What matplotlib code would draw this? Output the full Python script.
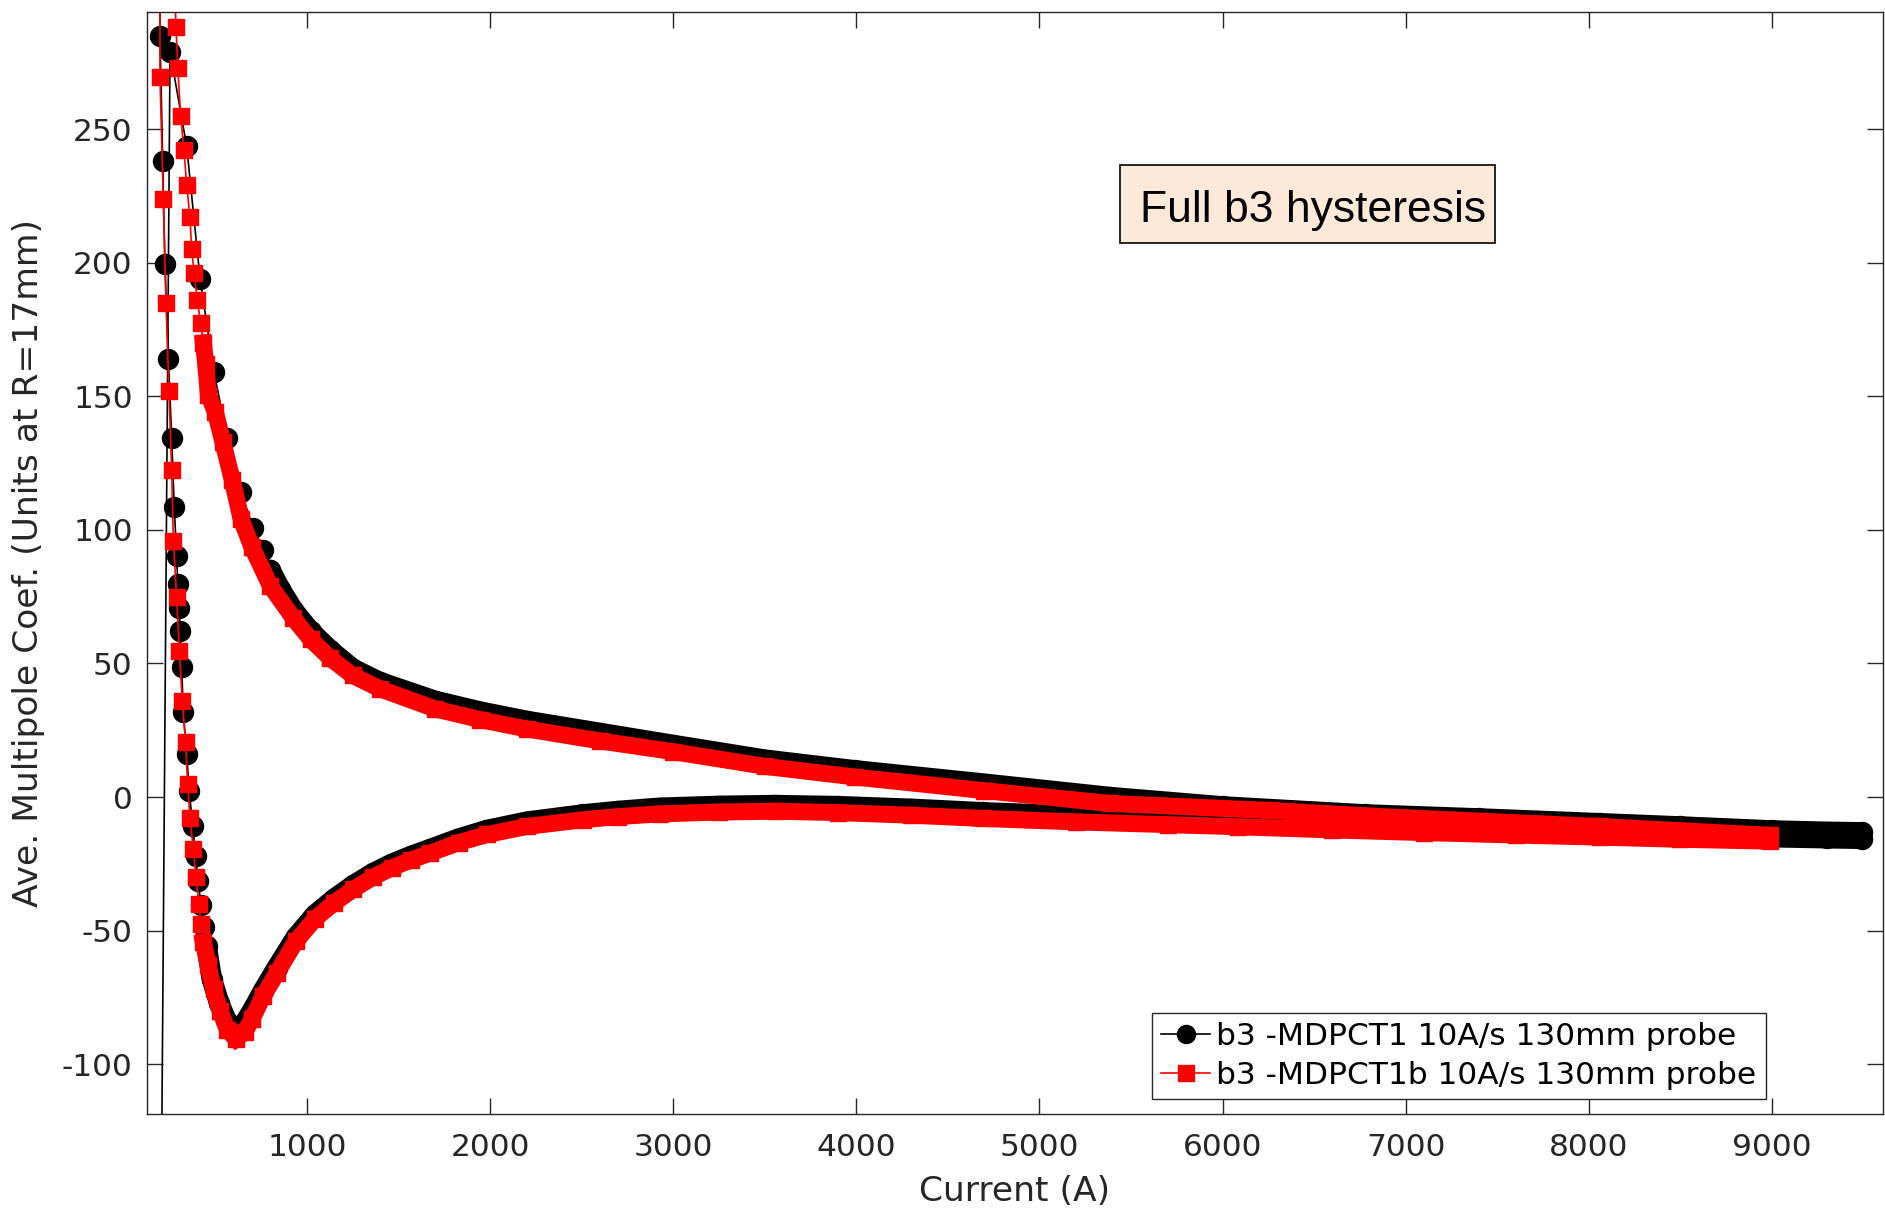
import matplotlib
matplotlib.use("Agg")
import matplotlib.pyplot as plt
from matplotlib.lines import Line2D
from matplotlib.patches import Rectangle

# ---- MDPCT1 (black): loop order = steep branch, up-ramp, down-ramp ----
blk_left_I = [201, 197, 212, 224, 243, 261, 275, 288, 294, 303, 306, 316, 324, 343,
              357, 376, 392, 406, 421, 439, 452]
blk_left_b3 = [420, 285, 238, 199.5, 164, 134.5, 108.5, 90.4, 79.7, 70.7, 62, 48.5, 32,
               16, 2.2, -11, -22, -31.5, -40.4, -48.8, -55.8]

blk_up_I = [480, 520, 560, 607, 650, 700, 760, 834, 939, 1044, 1150, 1253, 1360, 1462,
            1570, 1671, 1830, 1985, 2200, 2508, 2700, 2927, 3250, 3554, 3900, 4300,
            4690, 5200, 5700, 6083, 6600, 7100, 7600, 8062, 8500, 9000, 9300, 9493]
blk_up_b3 = [-68, -77, -83.5, -87, -85.5, -80, -72.5, -64, -52.5, -44, -38, -33, -28.5,
             -25, -22, -19.5, -15.5, -12.3, -9.2, -6.5, -5.2, -4, -3.3, -3, -3.4, -4.4,
             -5.7, -7, -8.2, -9.2, -10.4, -11.5, -12.5, -13.5, -14.3, -15, -15.4, -15.6]

blk_down_I = [9493, 9300, 9000, 8500, 8062, 7400, 6778, 6000, 5386, 4700, 3993, 3500,
              3000, 2600, 2200, 1945, 1700, 1399, 1250, 1126, 1020, 925, 853, 800, 758,
              707, 640, 565, 492, 416, 343, 252, 171]
blk_down_b3 = [-13.2, -13, -12.5, -11, -9.8, -8, -6.5, -3.5, 0, 5, 10, 14, 19.5, 24,
               28.5, 32, 36, 43, 48, 55, 62, 70, 78, 85, 92.4, 100.7, 114, 134.5, 159,
               194, 243.5, 279, -450]

# ---- MDPCT1b (red) ----
red_left_I = [196, 197, 215, 230, 246, 261, 270, 288, 303, 319, 337, 348, 361, 379,
              394, 410, 421, 434]
red_left_b3 = [400, 269.5, 224, 185, 152, 122.5, 96, 75, 54.5, 36, 20.5, 5, -7.7, -19.5,
               -30, -40, -47.5, -54.3]

red_up_I = [460, 490, 525, 565, 612, 660, 700, 760, 834, 939, 1044, 1150, 1253, 1360,
            1462, 1570, 1671, 1830, 1985, 2200, 2508, 2700, 2927, 3250, 3554, 3900,
            4300, 4690, 5200, 5700, 6083, 6600, 7100, 7600, 8062, 8500, 8990]
red_up_b3 = [-63, -72, -80, -87, -90.5, -88, -83, -74.5, -66, -54, -45.5, -39.5, -34.5,
             -30, -26.5, -23.5, -21, -17, -14, -11, -8.5, -7.3, -6.3, -5.6, -5.3, -5.8,
             -6.8, -8, -9.3, -10.3, -11.1, -12.3, -13.3, -14.2, -15, -15.8, -16.5]

red_down_I = [8990, 8500, 8062, 7400, 6778, 6259, 5386, 4700, 3993, 3500, 3000, 2600,
              2200, 1945, 1700, 1399, 1250, 1126, 1020, 925, 800, 698, 640, 592, 540,
              500, 461, 447, 434, 419, 401, 384, 370, 361, 343, 328, 310, 294, 285, 260]
red_down_b3 = [-14.3, -12.6, -11, -9, -7, -5, -2.4, 2.4, 7.5, 11.5, 17, 21, 25.5, 29,
               33, 40.5, 45.5, 52, 59, 67, 79, 93.7, 104, 118.6, 133, 144, 150.6, 162,
               170, 177.6, 186, 196, 205, 217, 229, 242, 255, 273, 288, 330]

labels = ["b3 -MDPCT1 10A/s 130mm probe", "b3 -MDPCT1b 10A/s 130mm probe"]
xticks = [1000, 2000, 3000, 4000, 5000, 6000, 7000, 8000, 9000]
yticks = [-100, -50, 0, 50, 100, 150, 200, 250]

W, H = 1885, 1209
gray = "#262626"

fig = plt.figure(figsize=(W / 100, H / 100), dpi=100)
ax = fig.add_axes([146.6 / W, (H - 1114) / H, (1883 - 146.6) / W, (1114 - 12) / H])

blk_I = blk_left_I + blk_up_I + blk_down_I
blk_b3 = blk_left_b3 + blk_up_b3 + blk_down_b3
red_I = red_left_I + red_up_I + red_down_I
red_b3 = red_left_b3 + red_up_b3 + red_down_b3

# dense parts of the sweep, where the markers merge into a solid band
blk_band = [(i, b) for i, b in zip(blk_left_I[-1:] + blk_up_I + blk_down_I,
                                   blk_left_b3[-1:] + blk_up_b3 + blk_down_b3) if i >= 440 and b > -200]
blk_band = [p for p in blk_band if not (p[1] > 80 and p[0] < 800)]
red_band = [(i, b) for i, b in zip(red_left_I[-1:] + red_up_I + red_down_I,
                                   red_left_b3[-1:] + red_up_b3 + red_down_b3) if i >= 430]

ax.plot([p[0] for p in blk_band], [p[1] for p in blk_band], color="k", lw=14.8,
        solid_capstyle="round", solid_joinstyle="round")
ax.plot(blk_I, blk_b3, "-", color="k", lw=1.2, marker="o", ms=14.4)
ax.plot([p[0] for p in red_band], [p[1] for p in red_band], color="red", lw=12.2,
        solid_capstyle="projecting", solid_joinstyle="miter")
ax.plot(red_I, red_b3, "-", color="red", lw=1.2, marker="s", ms=11.5)

ax.set_xlim(124, 9607)
ax.set_ylim(-118.6, 293.8)
ax.set_xticks(xticks)
ax.set_xticklabels([str(t) for t in xticks])
ax.set_yticks(yticks)
ax.set_yticklabels([str(t) for t in yticks])
ax.tick_params(direction="in", length=11.2, width=1.0, top=True, right=True,
               labelsize=22.5, colors=gray, labelcolor=gray)
ax.tick_params(axis="x", pad=14)
ax.tick_params(axis="y", pad=10)
for s in ax.spines.values():
    s.set_color(gray)
    s.set_linewidth(1.0)

ax.set_xlabel("Current (A)", fontsize=24.8, color=gray, labelpad=9)
ax.set_ylabel("Ave. Multipole Coef. (Units at R=17mm)", fontsize=24.8, color=gray, labelpad=12)

handles = [Line2D([], [], color="k", lw=1.2, marker="o", ms=13),
           Line2D([], [], color="red", lw=1.2, marker="s", ms=11)]
leg = fig.legend(handles, labels, loc="upper left",
                 bbox_to_anchor=(1152 / W, 1 - 1013 / H), borderaxespad=0,
                 fontsize=22.5, frameon=True, fancybox=False, framealpha=1,
                 edgecolor=gray, borderpad=0.3, labelspacing=0.3,
                 handlelength=1.55, handletextpad=0.2)
leg.get_frame().set_linewidth(1.0)

# annotation box
fig.patches.append(Rectangle((1120 / W, 1 - 243 / H), 375 / W, 78 / H,
                             transform=fig.transFigure, facecolor="#FDE9D9",
                             edgecolor="k", lw=1.2, zorder=5))
fig.text(1140 / W, 1 - 221.7 / H, "Full b3 hysteresis", fontsize=32,
         family="Liberation Sans", ha="left", va="baseline", zorder=6)

fig.savefig("out.png", dpi=100)
